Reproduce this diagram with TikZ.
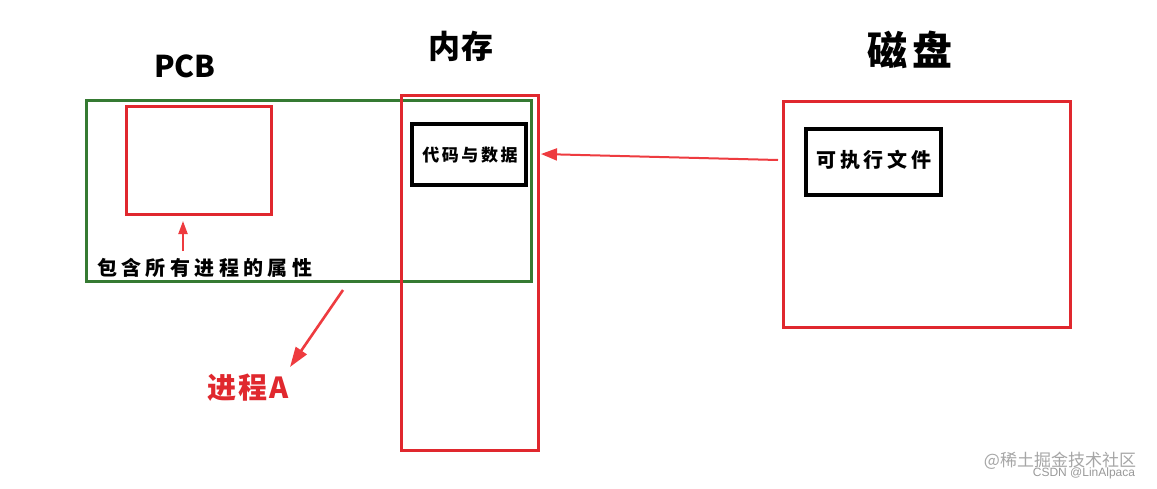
\documentclass[tikz,border=0pt]{standalone}
\usepackage{fontspec}
\usetikzlibrary{arrows.meta}
\newfontfamily\cjk{Noto Sans CJK SC}
\newfontfamily\wmfont{Liberation Sans}
\definecolor{boxred}{HTML}{E0282E}
\definecolor{arrred}{HTML}{EE3B3F}
\definecolor{boxgreen}{HTML}{357A32}
\tikzset{
  frame/.style={draw, line width=3pt, rectangle, inner sep=0pt},
  redframe/.style={frame, draw=boxred},
  greenframe/.style={frame, draw=boxgreen},
  blackframe/.style={frame, draw=black, line width=3.2pt},
  redarrow/.style={draw=arrred, line width=2pt, -{Triangle[length=16pt,width=12pt]}},
  title/.style={font=\cjk\bfseries, text=black, inner sep=0pt},
  lbl/.style={text=black, inner sep=0pt},
}
\begin{document}
\begin{tikzpicture}[x=1pt,y=-1pt]
\useasboundingbox (0,0) rectangle (1157,488);
\fill[white] (0,0) rectangle (1157,488);

% titles
\node[title, font=\cjk\bfseries\fontsize{30}{30}\selectfont] (pcbt) at (185,66) {PCB};
\node[title, font=\cjk\bfseries\fontsize{32}{32}\selectfont\addfontfeature{LetterSpace=6}] (memt) at (461,46) {内存};
\node[title, font=\cjk\bfseries\fontsize{40}{40}\selectfont\addfontfeature{LetterSpace=12}] (diskt) at (910,50) {磁盘};

% green process box and PCB box
\node[greenframe, minimum width=445pt, minimum height=181pt] (proc) at (308.5,190.5) {};
\node[redframe, minimum width=145pt, minimum height=108pt] (pcb) at (198.5,160) {};

% memory
\node[redframe, minimum width=137pt, minimum height=355pt] (mem) at (469.5,272.5) {};
\node[blackframe, minimum width=114pt, minimum height=61pt] (code) at (469,154.5) {};
\node[lbl, font=\cjk\bfseries\fontsize{17}{17}\selectfont\addfontfeature{LetterSpace=15}] (codet) at (470,155) {代码与数据};

% disk
\node[redframe, minimum width=287pt, minimum height=226pt] (disk) at (926.5,214) {};
\node[blackframe, minimum width=135pt, minimum height=66pt] (exec) at (873.5,162) {};
\node[lbl, font=\cjk\bfseries\fontsize{20}{20}\selectfont\addfontfeature{LetterSpace=18}] (exect) at (874,160) {可执行文件};

% labels
\node[lbl, font=\cjk\bfseries\fontsize{20}{20}\selectfont\addfontfeature{LetterSpace=22}, anchor=west] (attr) at (97,268) {包含所有进程的属性};
\node[lbl, text=boxred, font=\cjk\bfseries\fontsize{29}{29}\selectfont\addfontfeature{LetterSpace=8}, anchor=west] (proca) at (207,388) {进程A};

% arrows
\coordinate (a1s) at (778,160);
\coordinate (a1t) at (541,154);
\draw[redarrow] (a1s) -- (a1t);
\coordinate (a2s) at (183,251);
\coordinate (a2t) at (183,221);
\draw[redarrow, line width=2pt, -{Triangle[length=13pt,width=9pt]}] (a2s) -- (a2t);
\coordinate (a3s) at (343,290);
\coordinate (a3t) at (290,367);
\draw[redarrow, line width=2.6pt, -{Triangle[length=20pt,width=13pt]}] (a3s) -- (a3t);

% watermarks
\node[text=black!35, font=\cjk\fontsize{17}{17}\selectfont, inner sep=0pt] (wm1) at (1060,461) {@稀土掘金技术社区};
\node[text=black!40, font=\wmfont\fontsize{12}{12}\selectfont, inner sep=0pt] (wm2) at (1084,473) {CSDN @LinAlpaca};
\end{tikzpicture}
\end{document}
